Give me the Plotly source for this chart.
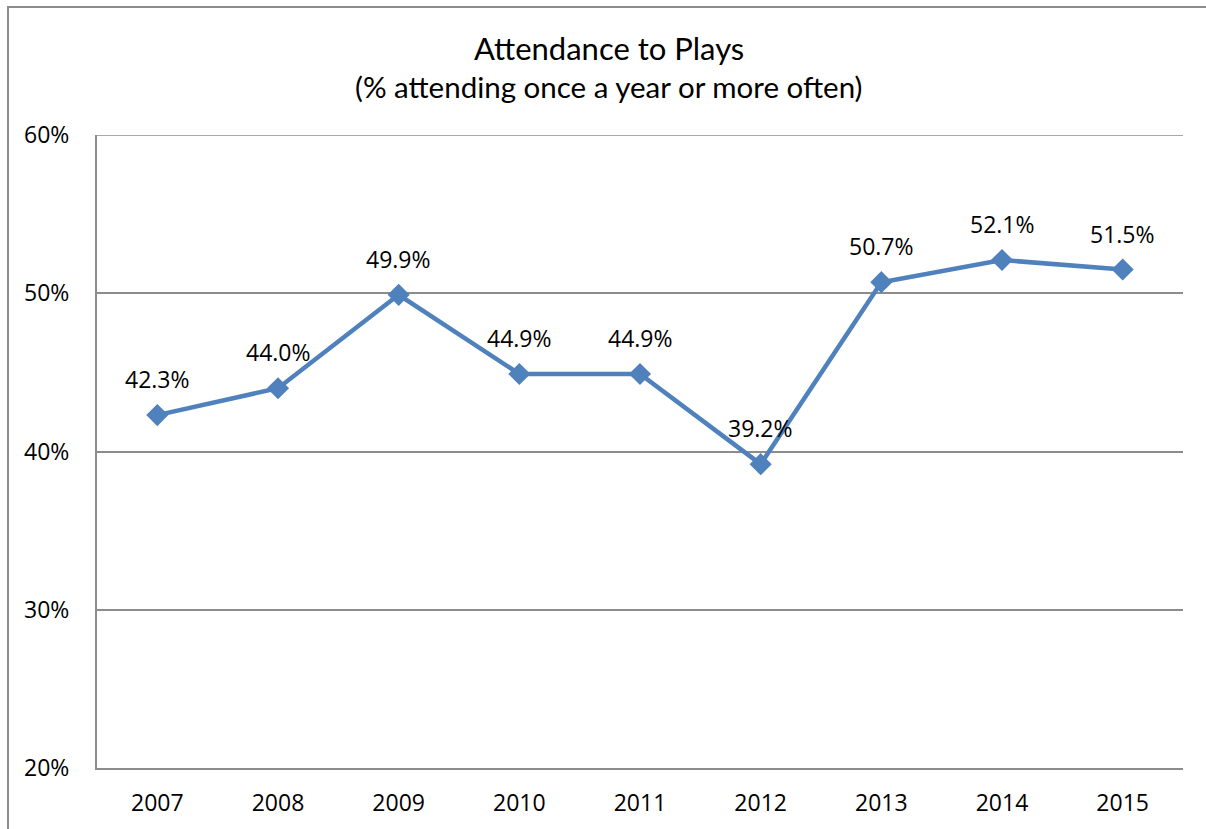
import plotly.graph_objects as go

years = ["2007", "2008", "2009", "2010", "2011", "2012", "2013", "2014", "2015"]
attendance = [42.3, 44.0, 49.9, 44.9, 44.9, 39.2, 50.7, 52.1, 51.5]
y_ticks = [20, 30, 40, 50, 60]
y_tick_labels = ["20%", "30%", "40%", "50%", "60%"]

W, H = 1206, 829
L, R, T, B = 97, 23, 135, 61
pw, ph = W - L - R, H - T - B
GREY = "#8C8C8C"
LABEL_FONT = dict(size=23, color="#000000", family="Open Sans, sans-serif")

fig = go.Figure()
fig.add_trace(go.Scatter(
    x=years, y=attendance, mode="lines+markers",
    line=dict(color="#4F81BD", width=4.5),
    marker=dict(symbol="diamond", size=17, color="#4F81BD"),
    hoverinfo="skip", showlegend=False, cliponaxis=False,
))

# value labels above each point (category positions by index)
for i, v in enumerate(attendance):
    fig.add_annotation(x=i, y=v, xref="x", yref="y", text=f"{v:.1f}%",
                       showarrow=False, yshift=36, font=LABEL_FONT)

# chart outline (runs off the right and bottom edges of the page)
fig.add_shape(type="rect", xref="paper", yref="paper",
              x0=(8 - L) / pw, x1=(W + 10 - L) / pw,
              y0=(H - B - (H + 10)) / ph, y1=(H - B - 7) / ph,
              line=dict(color=GREY, width=2), fillcolor="rgba(0,0,0,0)",
              layer="below")

# top gridline at 60%
fig.add_shape(type="line", xref="paper", yref="y", x0=0, x1=1, y0=60, y1=60,
              line=dict(color=GREY, width=1.5), layer="below")

fig.add_annotation(xref="paper", yref="paper", x=(609 - L) / pw, y=(H - B - 48) / ph,
                   xanchor="center", yanchor="middle",
                   text="Attendance to Plays", showarrow=False,
                   font=dict(size=31, family="Lato, sans-serif", color="#000000"))
fig.add_annotation(xref="paper", yref="paper", x=(609 - L) / pw, y=(H - B - 86) / ph,
                   xanchor="center", yanchor="middle",
                   text="(% attending once a year or more often)", showarrow=False,
                   font=dict(size=29.5, family="Lato, sans-serif", color="#000000"))

fig.update_layout(
    width=W, height=H, margin=dict(l=L, r=R, t=T, b=B),
    paper_bgcolor="white", plot_bgcolor="white",
    xaxis=dict(type="category", showgrid=False, showline=True, linecolor=GREY,
               linewidth=2, ticks="", tickfont=LABEL_FONT,
               ticklabelstandoff=13, range=[-0.5, 8.5], fixedrange=True),
    yaxis=dict(range=[20, 60], tickvals=y_ticks, ticktext=y_tick_labels,
               showgrid=True, gridcolor=GREY, gridwidth=1.5,
               showline=True, linecolor=GREY, linewidth=2, ticks="",
               zeroline=False, mirror=False,
               tickfont=LABEL_FONT, ticklabelstandoff=21),
)
fig.write_html("out.html")
